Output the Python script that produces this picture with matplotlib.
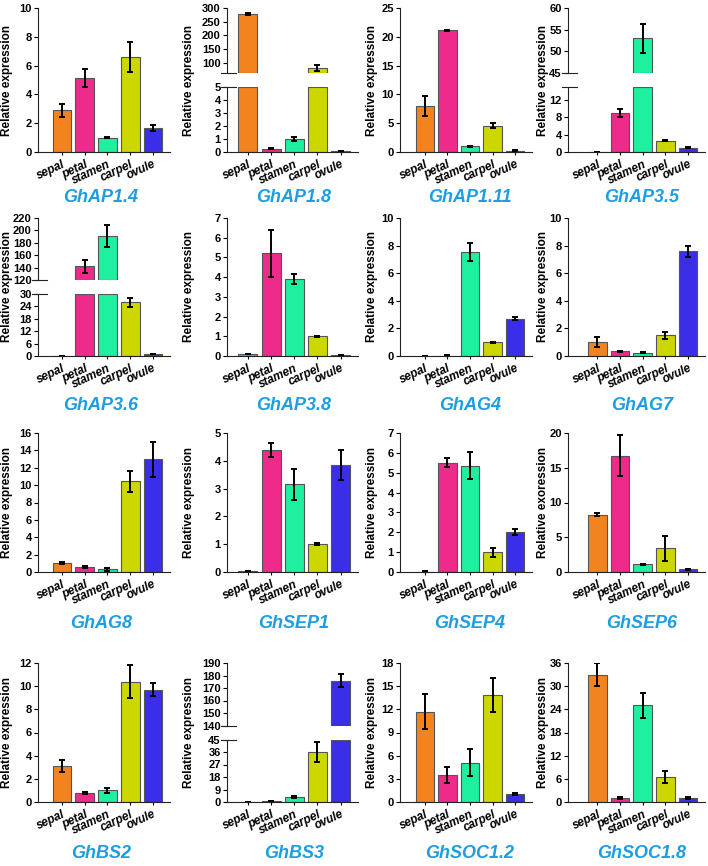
#!/usr/bin/env python3
"""
Relative expression of cotton MADS-box genes across floral organs (4x4 panel grid)
"""
import matplotlib.pyplot as plt
from matplotlib.lines import Line2D
import numpy as np

plt.rcParams['font.family'] = ['Liberation Sans', 'DejaVu Sans']

# data
tissues = ['sepal', 'petal', 'stamen', 'carpel', 'ovule']
genes = ['GhAP1.4', 'GhAP1.8', 'GhAP1.11', 'GhAP3.5',
         'GhAP3.6', 'GhAP3.8', 'GhAG4', 'GhAG7',
         'GhAG8', 'GhSEP1', 'GhSEP4', 'GhSEP6',
         'GhBS2', 'GhBS3', 'GhSOC1.2', 'GhSOC1.8']
means = [
    [2.9, 5.15, 1.0, 6.6, 1.65],
    [278, 0.25, 1.0, 82, 0.05],
    [8.0, 21.1, 1.0, 4.6, 0.25],
    [0.05, 9.0, 53, 2.6, 1.0],
    [0.05, 142, 191, 26, 1.0],
    [0.1, 5.2, 3.9, 1.0, 0.05],
    [0.0, 0.03, 7.55, 1.0, 2.7],
    [1.0, 0.35, 0.25, 1.5, 7.6],
    [1.0, 0.6, 0.3, 10.45, 12.95],
    [0.03, 4.38, 3.15, 1.0, 3.85],
    [0.02, 5.5, 5.35, 1.0, 2.0],
    [8.25, 16.75, 1.1, 3.4, 0.4],
    [3.1, 0.8, 1.0, 10.4, 9.7],
    [0.1, 0.8, 3.5, 36, 176],
    [11.7, 3.5, 5.1, 13.9, 1.0],
    [33, 1.0, 25, 6.5, 1.0],
]
errs = [
    [0.45, 0.62, 0.06, 1.02, 0.22],
    [4, 0.03, 0.12, 11, 0.03],
    [1.75, 0.15, 0.1, 0.35, 0.05],
    [0.02, 1.0, 3.4, 0.15, 0.1],
    [0.0, 11, 17, 2.2, 0.15],
    [0.02, 1.17, 0.27, 0.03, 0.02],
    [0.0, 0.02, 0.65, 0.05, 0.1],
    [0.38, 0.04, 0.06, 0.27, 0.4],
    [0.12, 0.12, 0.13, 1.2, 2.0],
    [0.01, 0.25, 0.57, 0.03, 0.55],
    [0.02, 0.22, 0.68, 0.22, 0.15],
    [0.2, 2.95, 0.1, 1.75, 0.1],
    [0.5, 0.1, 0.18, 1.45, 0.55],
    [0.05, 0.2, 0.5, 7.5, 5.5],
    [2.3, 1.0, 1.7, 2.2, 0.15],
    [3.0, 0.25, 3.2, 1.5, 0.25],
]
# y axis: (max, step) for plain panels
y_range = {'GhAP1.4': (10, 2), 'GhAP1.11': (25, 5), 'GhAP3.8': (7, 1),
           'GhAG4': (10, 2), 'GhAG7': (10, 2), 'GhAG8': (16, 2),
           'GhSEP1': (5, 1), 'GhSEP4': (7, 1), 'GhSEP6': (20, 5),
           'GhBS2': (12, 2), 'GhSOC1.2': (18, 3), 'GhSOC1.8': (36, 6)}
# broken panels: lower (top, ticks), upper (bottom, top, ticks)
lower_part = {'GhAP1.8': (5, [0, 1, 2, 3, 4, 5]),
              'GhAP3.5': (15, [0, 4, 8, 12]),
              'GhAP3.6': (30, [0, 6, 12, 18, 24, 30]),
              'GhBS3': (45, [0, 9, 18, 27, 36, 45])}
upper_part = {'GhAP1.8': (62, 300, [100, 150, 200, 250, 300]),
              'GhAP3.5': (45, 60, [45, 50, 55, 60]),
              'GhAP3.6': (120, 220, [120, 140, 160, 180, 200, 220]),
              'GhBS3': (140, 190, [140, 150, 160, 170, 180, 190])}
ylabels = {'GhSEP6': 'Relative exoression'}

colors = ['#F3831F', '#EE2A8B', '#1FF0A0', '#CCD700', '#3A2EE8']
title_color = '#1E9DE0'

# layout in pixels
W, H = 708, 866
col_left = [38, 227, 400, 568]
col_right = [170, 358, 532, 705]
col_xmin = [-1.05, -0.9, -1.1, -1.3]
col_ylab = [7, 189, 372, 543]
col_title = [101, 294, 470, 642]
row_top = [8, 218, 433, 663]
row_bottom = [152, 356, 572, 802]
row_title = [197, 405, 623, 853]
GAP = 14

fig = plt.figure(figsize=(W / 100, H / 100), dpi=100)


def add_ax(left, top, right, bottom):
    return fig.add_axes([left / W, 1 - bottom / H, (right - left) / W, (bottom - top) / H])


def fig_line(x0, x1, y):
    fig.add_artist(Line2D([x0 / W, x1 / W], [1 - y / H, 1 - y / H],
                          transform=fig.transFigure, color='#222222', lw=0.8))


def style(ax, xmin, ticks, show_x=True):
    ax.set_xlim(xmin, 4.75)
    for s in ['top', 'right']:
        ax.spines[s].set_visible(False)
    for s in ['left', 'bottom']:
        ax.spines[s].set_linewidth(0.8)
        ax.spines[s].set_color('#222222')
    ax.set_yticks(ticks)
    ax.set_yticklabels([str(t) for t in ticks], fontsize=8, fontweight='bold')
    ax.tick_params(axis='y', length=3, width=0.8, pad=1.5)
    if show_x:
        ax.set_xticks(range(len(tissues)))
        ax.set_xticklabels(tissues, rotation=25, ha='right', va='top', rotation_mode='anchor',
                           fontsize=8.5, fontweight='bold', fontstyle='italic')
        ax.tick_params(axis='x', length=2.5, width=0.8, pad=2)
    else:
        ax.spines['bottom'].set_visible(False)
        ax.set_xticks([])


def bars(ax, vals, err, lo=0.0, hi=None):
    vals = np.array(vals, dtype=float)
    err = np.array(err, dtype=float)
    x = np.arange(len(vals))
    top = vals if hi is None else np.minimum(vals, hi)
    show = vals > lo
    ax.bar(x[show], (top - lo)[show], bottom=lo, width=0.82,
           color=np.array(colors)[show], edgecolor='#555555', linewidth=0.8)
    limit = hi if hi is not None else np.inf
    ok = (vals <= limit) if lo == 0 else show
    ax.errorbar(x[ok], vals[ok], yerr=err[ok], fmt='none', ecolor='black',
                elinewidth=1.4, capsize=2.5, capthick=1.4)


for i, g in enumerate(genes):
    r, c = divmod(i, 4)
    l, rt = col_left[c], col_right[c]
    t, b = row_top[r], row_bottom[r]
    if g in lower_part:
        half = (b - t - GAP) / 2
        lo_top, lo_ticks = lower_part[g]
        up_lo, up_hi, up_ticks = upper_part[g]
        ax_up = add_ax(l, t, rt, t + half)
        ax_lo = add_ax(l, t + half + GAP, rt, b)
        bars(ax_up, means[i], errs[i], lo=up_lo)
        ax_up.set_ylim(up_lo, up_hi)
        style(ax_up, col_xmin[c], up_ticks, show_x=False)
        bars(ax_lo, means[i], errs[i], hi=lo_top)
        ax_lo.set_ylim(0, lo_top)
        style(ax_lo, col_xmin[c], lo_ticks)
        # break marks
        fig_line(l - 6, l + 9, t + half)
        fig_line(l - 6, l + 9, t + half + GAP)
    else:
        ax = add_ax(l, t, rt, b)
        bars(ax, means[i], errs[i])
        ymax, step = y_range[g]
        ax.set_ylim(0, ymax)
        style(ax, col_xmin[c], np.arange(0, ymax + step / 2, step).astype(int))

    fig.text(col_ylab[c] / W, 1 - (t + b) / 2 / H, ylabels.get(g, 'Relative expression'),
             rotation=90, ha='center', va='center', fontsize=8.5, fontweight='bold')
    fig.text(col_title[c] / W, 1 - row_title[r] / H, g, color=title_color,
             fontsize=13, fontweight='bold', fontstyle='italic', ha='center', va='center')

fig.savefig('out.png', dpi=100, facecolor='white')
